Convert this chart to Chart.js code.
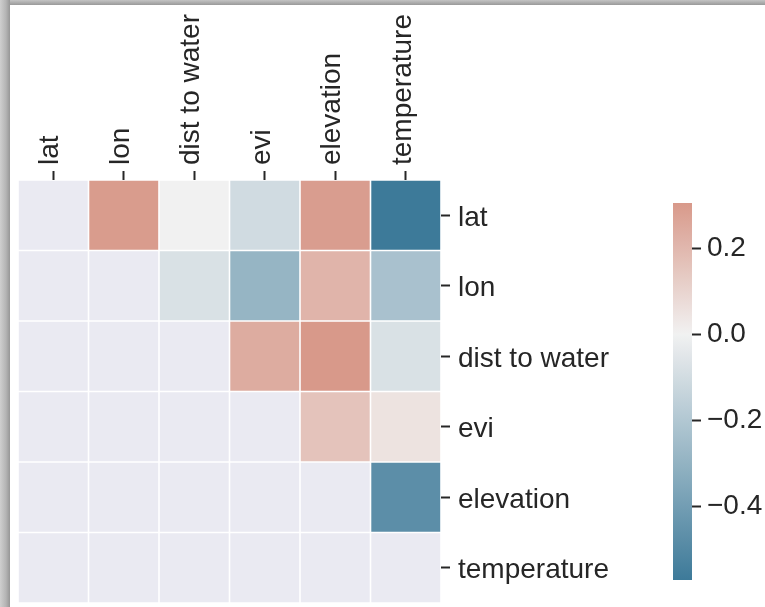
<!DOCTYPE html>
<html>
<head>
<meta charset="utf-8">
<script src="https://cdn.jsdelivr.net/npm/chart.js@4.4.0/dist/chart.umd.min.js"></script>
<style>
  html, body { margin: 0; padding: 0; background: #fff; overflow: hidden; }
  #page { position: relative; width: 765px; height: 607px; overflow: hidden; }
  #heat { position: absolute; left: 0; top: 0; }
  #cbar { position: absolute; left: 660px; top: 0; }
  .frame-top { position: absolute; left: 0; top: 0; width: 765px; height: 5px;
    background: linear-gradient(#c4c4c4, #999); }
  .frame-left { position: absolute; left: 0; top: 0; width: 10px; height: 607px;
    background: linear-gradient(to right, #cfcfcf, #b4b4b4 60%, #969696); }
</style>
</head>
<body>
<div id="page">
  <canvas id="heat" width="660" height="607"></canvas>
  <canvas id="cbar" width="105" height="607"></canvas>
  <div class="frame-top"></div>
  <div class="frame-left"></div>
</div>
<script>
// variable names (same order on both axes)
const labels = ["lat", "lon", "dist to water", "evi", "elevation", "temperature"];

// correlation rows, null = masked (lower triangle + diagonal)
const rowLat = [null, 0.295, 0.0, -0.105, 0.29, -0.572];
const rowLon = [null, null, -0.076, -0.29, 0.21, -0.23];
const rowDist = [null, null, null, 0.24, 0.305, -0.075];
const rowEvi = [null, null, null, null, 0.16, 0.05];
const rowElev = [null, null, null, null, null, -0.475];
const rowTemp = [null, null, null, null, null, null];
const rows = [rowLat, rowLon, rowDist, rowEvi, rowElev, rowTemp];

// colour bar range and ticks
const vmin = -0.572;
const vmax = 0.305;
const cbarTicks = [-0.4, -0.2, 0.0, 0.2];

const textColor = "#262626";
const fontFamily = "'Liberation Sans', Arial, sans-serif";
const fontSize = 28;
const maskColor = "#eaeaf2";
const negColor = [61, 122, 153];
const midColor = [241, 241, 241];
const posColor = [216, 153, 138];

function mix(a, b, t) {
    return "rgb(" + a.map((v, i) => Math.round(v + (b[i] - v) * t)).join(",") + ")";
}

function colorFor(v) {
    if (v === null) return maskColor;
    if (v >= 0) return mix(midColor, posColor, Math.min(v / vmax, 1));
    return mix(midColor, negColor, Math.min(v / vmin, 1));
}

function fmt(v) {
    const s = Math.abs(v).toFixed(1);
    return v < -1e-9 ? "\u2212" + s : s;
}

// Heatmap as stacked bars, one dataset per row
const datasets = rows.map((row, i) => ({
    label: labels[i],
    data: row.map(() => 1),
    backgroundColor: row.map(colorFor),
    borderColor: "#ffffff",
    borderWidth: 0.8,
    borderSkipped: false,
    inflateAmount: 0,
    barPercentage: 1,
    categoryPercentage: 1,
    stack: "grid"
}));

const tickGrid = {
    offset: false,
    drawOnChartArea: false,
    drawTicks: true,
    tickLength: 9,
    tickWidth: 2,
    tickColor: textColor
};

new Chart(document.getElementById("heat"), {
    type: "bar",
    data: { labels: labels, datasets: datasets },
    options: {
        responsive: false,
        animation: false,
        layout: { padding: { left: 18, top: 0, right: 0, bottom: 4 } },
        plugins: { legend: { display: false }, tooltip: { enabled: false } },
        scales: {
            x: {
                type: "category",
                position: "top",
                offset: true,
                grid: tickGrid,
                border: { display: false },
                ticks: {
                    autoSkip: false,
                    minRotation: 90,
                    maxRotation: 90,
                    padding: 6,
                    labelOffset: 31,
                    color: textColor,
                    font: { family: fontFamily, size: fontSize }
                },
                afterFit: s => {
                    s.height = 180;
                    s.paddingLeft = 0;
                    s.paddingRight = 0;
                }
            },
            y: {
                type: "linear",
                stacked: true,
                min: 0,
                max: 6,
                reverse: true,
                display: false
            },
            rowAxis: {
                type: "category",
                labels: labels,
                position: "right",
                offset: true,
                grid: tickGrid,
                border: { display: false },
                ticks: {
                    autoSkip: false,
                    padding: 8,
                    labelOffset: 3,
                    color: textColor,
                    font: { family: fontFamily, size: fontSize }
                },
                afterFit: s => {
                    s.width = 660 - 441;
                    s.paddingTop = 0;
                    s.paddingBottom = 0;
                }
            }
        }
    }
});

// Colour bar: one floating bar filled with the colormap gradient
new Chart(document.getElementById("cbar"), {
    type: "bar",
    data: {
        labels: ["corr"],
        datasets: [{
            data: [[vmin, vmax]],
            barPercentage: 1,
            categoryPercentage: 1,
            borderWidth: 0,
            backgroundColor: ctx => {
                const area = ctx.chart.chartArea;
                if (!area) return "#ccc";
                const g = ctx.chart.ctx.createLinearGradient(0, area.bottom, 0, area.top);
                const steps = 20;
                for (let k = 0; k <= steps; k++) {
                    const v = vmin + (vmax - vmin) * k / steps;
                    g.addColorStop(k / steps, colorFor(v));
                }
                g.addColorStop((0 - vmin) / (vmax - vmin), colorFor(0));
                return g;
            }
        }]
    },
    options: {
        responsive: false,
        animation: false,
        layout: { padding: { left: 13, top: 203, right: 0, bottom: 27 } },
        plugins: { legend: { display: false }, tooltip: { enabled: false } },
        scales: {
            x: { display: false },
            y: {
                type: "linear",
                position: "right",
                min: vmin,
                max: vmax,
                afterBuildTicks: s => { s.ticks = cbarTicks.map(v => ({ value: v })); },
                grid: { drawOnChartArea: false, tickLength: 9, tickWidth: 2, tickColor: textColor },
                border: { display: false },
                ticks: {
                    padding: 6,
                    color: textColor,
                    font: { family: fontFamily, size: fontSize },
                    callback: v => fmt(v)
                },
                afterFit: s => { s.width = 105 - 32; }
            }
        }
    }
});
</script>
</body>
</html>
